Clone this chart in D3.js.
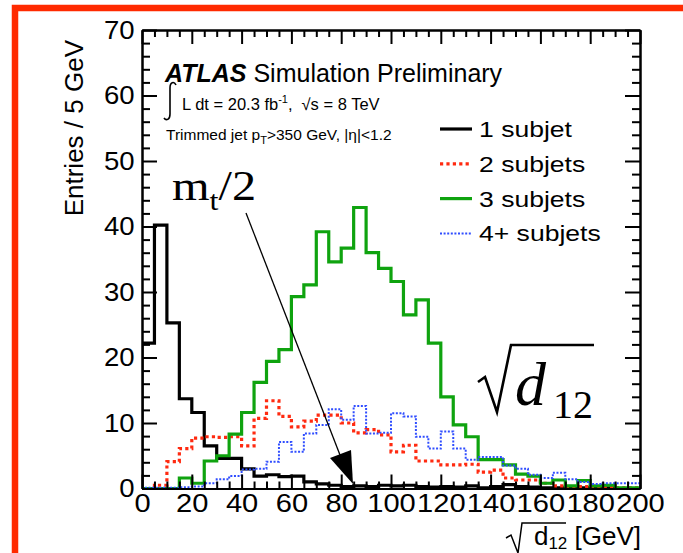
<!DOCTYPE html>
<html>
<head>
<meta charset="utf-8">
<script src="https://cdn.jsdelivr.net/npm/d3@7/dist/d3.min.js"></script>
<style>
  body { margin: 0; background: #fff; }
  svg text { font-family: "Liberation Sans", Arial, Helvetica, sans-serif; fill: #000; }
  .axis path, .axis line { stroke: #000; stroke-width: 2; }
  .hist { fill: none; }
</style>
</head>
<body>
<div id="chart"></div>
<script>

// sqrt(d12) in GeV, 5 GeV bins from 0 to 200
var binLow = d3.range(0, 200, 5)

// entries per bin
var oneSubjet = [22.2, 40.2, 25.3, 13.7, 11.6, 6.5, 4.6, 4.6, 3.0, 1.9,
                 2.1, 1.8, 1.9, 1.0, 0.7, 0.5, 0.3, 0.4, 0.3, 0.5,
                 0.4, 0.5, 0.3, 0.2, 0.3, 0.2, 0.4, 0.1, 0.3, 0.6,
                 0.3, 0.2, 0.1, 0.1, 0.3, 0.1, 0.2, 0.1, 0.0, 0.0]
var twoSubjets = [0.0, 0.5, 4.1, 6.1, 7.7, 7.9, 7.8, 7.9, 6.5, 10.7,
                  13.4, 11.0, 9.4, 10.3, 11.2, 11.2, 10.0, 8.5, 9.0, 8.2,
                  5.6, 6.6, 4.2, 4.2, 3.6, 3.6, 3.7, 2.5, 2.8, 1.6,
                  1.3, 1.3, 0.8, 0.4, 0.3, 0.3, 0.2, 0.2, 0.1, 0.1]
var threeSubjets = [0.0, 0.0, 0.0, 1.6, 0.8, 4.2, 5.0, 8.3, 11.6, 16.2,
                    19.4, 21.2, 29.3, 31.1, 39.2, 34.6, 36.7, 42.9, 36.0, 33.6,
                    31.6, 26.5, 28.8, 22.2, 14.0, 9.7, 7.9, 4.4, 4.4, 3.6,
                    2.2, 1.9, 0.8, 1.3, 0.4, 1.2, 0.4, 0.5, 0.1, 0.1]
var fourSubjets = [0.1, 0.1, 0.1, 0.2, 0.3, 0.8, 1.4, 1.9, 2.9, 3.0,
                   4.1, 7.1, 5.6, 8.4, 9.7, 12.1, 10.5, 12.6, 8.4, 8.5,
                   11.5, 11.0, 7.9, 6.1, 8.7, 6.1, 4.4, 4.8, 4.8, 3.5,
                   3.0, 2.1, 1.6, 2.4, 1.4, 1.0, 0.7, 0.8, 0.8, 0.8]

var xTickLabels = [0, 20, 40, 60, 80, 100, 120, 140, 160, 180, 200]
var yTickLabels = [0, 10, 20, 30, 40, 50, 60, 70]
var legendLabels = ["1 subjet", "2 subjets", "3 subjets", "4+ subjets"]

var config = {
  width: 683,
  height: 553,
  plot: { left: 142, right: 640, top: 30, bottom: 488.5 },
  xDomain: [0, 200],
  yDomain: [0, 70],
  majorTick: 15,
  minorTick: 8,
  // the original figure is a little wider than tall, so text is stretched
  stretch: 1.12
}

var styles = [
  { color: "#000000", width: 3.2, dash: null },
  { color: "#ff2a10", width: 3.2, dash: "3.2,3.2" },
  { color: "#0fa30f", width: 3.2, dash: null },
  { color: "#2f4dff", width: 2, dash: "2,1.6" }
]
var series = [oneSubjet, twoSubjets, threeSubjets, fourSubjets]

var svg = d3.select("#chart").append("svg")
    .attr("width", config.width)
    .attr("height", config.height)

svg.append("rect")
    .attr("width", config.width)
    .attr("height", config.height)
    .attr("fill", "#fff")

var x = d3.scaleLinear().domain(config.xDomain).range([config.plot.left, config.plot.right])
var y = d3.scaleLinear().domain(config.yDomain).range([config.plot.bottom, config.plot.top])

// horizontal stretch of a text about its anchor point
function stretchAt(ox, oy, sx){
  return "translate(" + ox + "," + oy + ") scale(" + sx + ",1)"
}

// clip for the histograms
svg.append("clipPath").attr("id", "plotclip")
  .append("rect")
    .attr("x", config.plot.left)
    .attr("y", config.plot.top)
    .attr("width", config.plot.right - config.plot.left)
    .attr("height", config.plot.bottom - config.plot.top)

// step outline like ROOT draws it
function stepPoints(values){
  var pts = [[0, 0]]
  values.forEach(function(v, i){
    pts.push([binLow[i], v])
    pts.push([binLow[i] + 5, v])
  })
  pts.push([200, 0])
  return pts
}

var line = d3.line()
    .x(function(d){ return x(d[0]) })
    .y(function(d){ return y(d[1]) })

var histGroup = svg.append("g").attr("clip-path", "url(#plotclip)")
series.forEach(function(s, i){
  histGroup.append("path")
      .attr("class", "hist")
      .attr("d", line(stepPoints(s)))
      .attr("stroke", styles[i].color)
      .attr("stroke-width", styles[i].width)
      .attr("stroke-dasharray", styles[i].dash)
      .attr("stroke-linejoin", "miter")
})

// axes: major ticks with labels, minor ticks inward on all four sides
var xMinor = d3.range(0, 201, 5).filter(function(v){ return v % 20 !== 0 })
var yMinor = d3.range(0, 71, 2).filter(function(v){ return v % 10 !== 0 })

function addTicks(axisFn, scale, transform, ticks, size){
  var ax = axisFn(scale).tickValues(ticks).tickSize(-size).tickSizeOuter(0).tickFormat("")
  return svg.append("g").attr("class", "axis").attr("transform", transform).call(ax)
}

var bottom = svg.append("g").attr("class", "axis")
    .attr("transform", "translate(0," + config.plot.bottom + ")")
    .call(d3.axisBottom(x).tickValues(xTickLabels).tickSize(-14).tickSizeOuter(0).tickPadding(5))
addTicks(d3.axisBottom, x, "translate(0," + config.plot.bottom + ")", xMinor, 7)
addTicks(d3.axisTop, x, "translate(0," + config.plot.top + ")", xTickLabels, 14)
addTicks(d3.axisTop, x, "translate(0," + config.plot.top + ")", xMinor, 7)

var left = svg.append("g").attr("class", "axis")
    .attr("transform", "translate(" + config.plot.left + ",0)")
    .call(d3.axisLeft(y).tickValues(yTickLabels).tickSize(-config.majorTick).tickSizeOuter(0).tickPadding(7))
addTicks(d3.axisLeft, y, "translate(" + config.plot.left + ",0)", yMinor, config.minorTick)
addTicks(d3.axisRight, y, "translate(" + config.plot.right + ",0)", yTickLabels, config.majorTick)
addTicks(d3.axisRight, y, "translate(" + config.plot.right + ",0)", yMinor, config.minorTick)

bottom.selectAll("text")
    .attr("fill", "#000")
    .style("font-size", "26px")
    .attr("transform", "scale(" + config.stretch + ",1)")
left.selectAll("text")
    .attr("fill", "#000")
    .style("font-size", "26px")
    .attr("transform", "scale(1.06,1)")

// y axis title
svg.append("text")
    .attr("transform", "translate(83,40) rotate(-90)")
    .attr("text-anchor", "end")
    .style("font-size", "26px")
    .text("Entries / 5 GeV")

// x axis title with a radical sign
svg.append("path")
    .attr("d", "M506,538 L511,535 L518,553 L522,523 L566,523")
    .attr("fill", "none")
    .attr("stroke", "#000")
    .attr("stroke-width", 1.5)
var xt = svg.append("text")
    .attr("x", 641)
    .attr("y", 545)
    .attr("text-anchor", "end")
    .style("font-size", "26px")
xt.append("tspan").text("d")
xt.append("tspan").attr("dy", 4).style("font-size", "17px").text("12")
xt.append("tspan").attr("dy", -4).text(" [GeV]")

// ATLAS label
var atlas = svg.append("text").attr("x", 165).attr("y", 82).style("font-size", "25px")
atlas.append("tspan").style("font-weight", "bold").style("font-style", "italic").text("ATLAS")
atlas.append("tspan").text(" Simulation Preliminary")

svg.append("path")
    .attr("d", "M176,85 C174,81 170,82 170,88 L170,114 C170,120 166,121 164,118")
    .attr("fill", "none")
    .attr("stroke", "#000")
    .attr("stroke-width", 1.6)
var lumi = svg.append("text").attr("x", 182).attr("y", 110).style("font-size", "16.5px")
lumi.append("tspan").text("L dt = 20.3 fb")
lumi.append("tspan").attr("dy", -7).style("font-size", "11px").text("-1")
lumi.append("tspan").attr("dy", 7).text(",")
lumi.append("tspan").attr("dx", 9).text("\u221As = 8 TeV")

var cut = svg.append("text").attr("x", 166).attr("y", 140).style("font-size", "15.5px")
cut.append("tspan").text("Trimmed jet p")
cut.append("tspan").attr("dy", 4).style("font-size", "11px").text("T")
cut.append("tspan").attr("dy", -4).text(">350 GeV, |\u03B7|<1.2")

// legend
var legend = svg.append("g").selectAll("g")
    .data(legendLabels)
  .enter().append("g")
    .attr("transform", function(d, i){ return "translate(440," + (129 + i * 34.8) + ")" })
legend.append("line")
    .attr("x1", 0).attr("x2", 32)
    .attr("stroke", function(d, i){ return styles[i].color })
    .attr("stroke-width", function(d, i){ return styles[i].width })
    .attr("stroke-dasharray", function(d, i){ return styles[i].dash })
legend.append("text")
    .attr("transform", stretchAt(39, 8, 1.18))
    .style("font-size", "22.5px")
    .text(function(d){ return d })

// m_t/2 annotation with arrow
var mt = svg.append("text")
    .attr("transform", stretchAt(172, 200, 1.15))
    .style("font-family", "'Liberation Serif', 'Times New Roman', serif")
    .style("font-size", "42px")
mt.append("tspan").text("m")
mt.append("tspan").attr("dy", 10).style("font-size", "28px").text("t")
mt.append("tspan").attr("dy", -10).text("/2")

svg.append("line")
    .attr("x1", 246).attr("y1", 213)
    .attr("x2", 340).attr("y2", 455)
    .attr("stroke", "#000")
    .attr("stroke-width", 1.3)
svg.append("path")
    .attr("d", "M330,458 L351,450 L353,484 Z")
    .attr("fill", "#000")

// big sqrt(d12) label
svg.append("path")
    .attr("d", "M478,382 L485,377 L497,412 L511,345 L594,345")
    .attr("fill", "none")
    .attr("stroke", "#000")
    .attr("stroke-width", 2.6)
var d12 = svg.append("text").attr("x", 515).attr("y", 405)
    .style("font-family", "'Liberation Serif', 'Times New Roman', serif")
    .style("font-size", "62px")
d12.append("tspan").style("font-style", "italic").text("d")
d12.append("tspan").attr("dx", 7).attr("dy", 13).style("font-size", "40px").text("12")

// red frame round the figure
svg.append("rect")
    .attr("x", 15).attr("y", 8)
    .attr("width", 720).attr("height", 620)
    .attr("fill", "none")
    .attr("stroke", "#ff2a00")
    .attr("stroke-width", 6.5)
</script>
</body>
</html>
